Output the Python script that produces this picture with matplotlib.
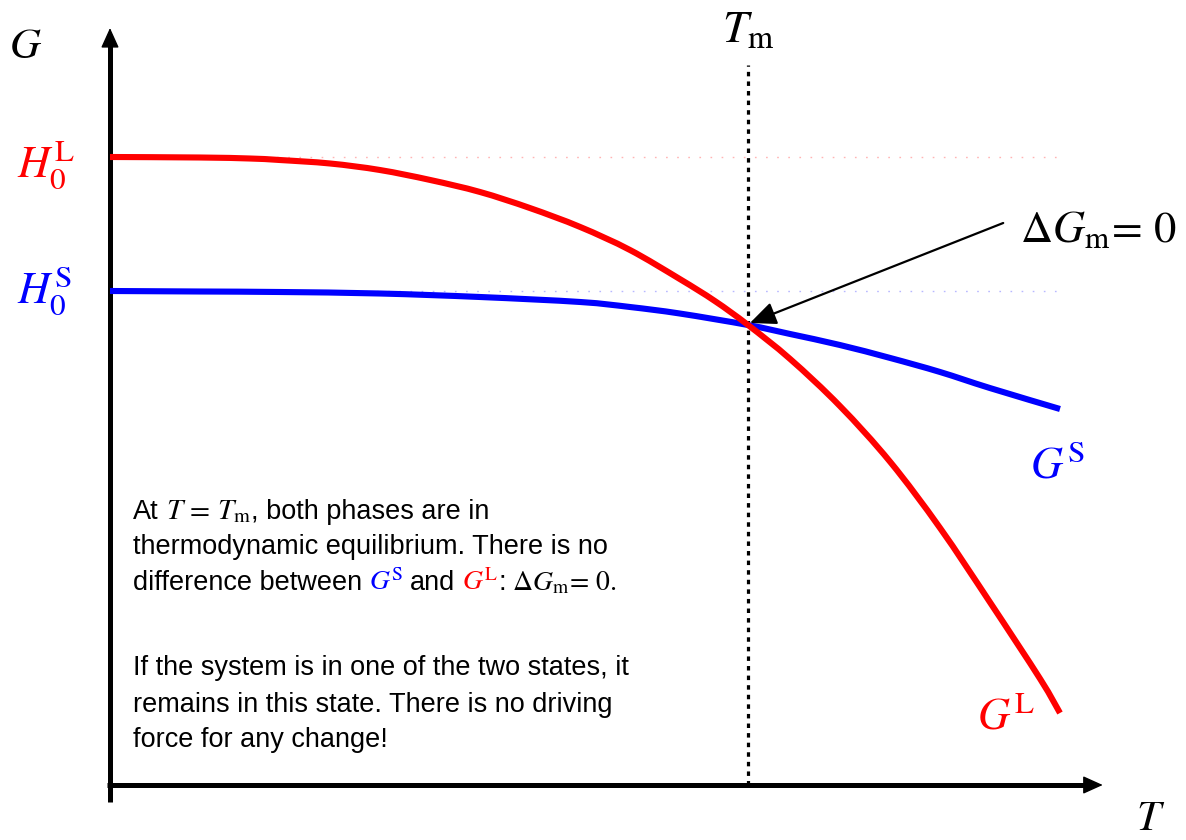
import matplotlib
matplotlib.use("Agg")
import matplotlib.pyplot as plt
from matplotlib.patches import ArrowStyle, PathPatch
from matplotlib.path import Path

plt.rcParams['mathtext.fontset'] = 'stix'
plt.rcParams['font.family'] = ['Liberation Sans', 'DejaVu Sans']

# temperature (T_m = 1) and Gibbs energy of the liquid phase
T_liquid = [0, 0.141, 0.219, 0.266, 0.345, 0.423, 0.502, 0.580, 0.658, 0.737, 0.815,
            0.893, 0.948, 1.0, 1.066, 1.144, 1.223, 1.301, 1.379, 1.458, 1.489]
G_liquid = [6.28, 6.275, 6.265, 6.25, 6.215, 6.15, 6.05, 5.93, 5.77, 5.58, 5.35,
            5.06, 4.84, 4.60, 4.26, 3.79, 3.23, 2.57, 1.83, 1.06, 0.72]

# ... and of the solid phase
T_solid = [0, 0.141, 0.266, 0.423, 0.580, 0.737, 0.815, 0.893, 1.0, 1.066,
           1.144, 1.223, 1.301, 1.379, 1.489]
G_solid = [4.94, 4.935, 4.93, 4.915, 4.88, 4.83, 4.78, 4.715, 4.60, 4.51,
           4.40, 4.27, 4.13, 3.97, 3.76]
T_m = 1.0

RED = '#ff0000'
BLUE = '#0000ff'


def smooth_path(xs, ys):
    # Catmull-Rom through the points, written as cubic Bezier segments
    pts = list(zip(xs, ys))
    ext = [pts[0]] + pts + [pts[-1]]
    verts = [pts[0]]
    codes = [Path.MOVETO]
    for i in range(1, len(ext) - 2):
        p0, p1, p2, p3 = ext[i - 1], ext[i], ext[i + 1], ext[i + 2]
        c1 = (p1[0] + (p2[0] - p0[0]) / 6, p1[1] + (p2[1] - p0[1]) / 6)
        c2 = (p2[0] - (p3[0] - p1[0]) / 6, p2[1] - (p3[1] - p1[1]) / 6)
        verts += [c1, c2, p2]
        codes += [Path.CURVE4] * 3
    return Path(verts, codes)


fig = plt.figure(figsize=(11.86, 8.40), dpi=100)
ax = fig.add_axes([0, 0, 1, 1])
ax.set_xlim(-0.1724, 1.6865)
ax.set_ylim(-0.55, 7.85)
ax.axis('off')

# coordinate axes: thick shafts plus arrow heads
head = ArrowStyle('-|>', head_length=0.62, head_width=0.28)
ax.plot([0, 0], [-0.17, 7.45], color='k', lw=3.6, solid_capstyle='butt')
ax.plot([-0.004, 1.535], [0, 0], color='k', lw=3.6, solid_capstyle='butt')
ax.annotate('', xy=(0, 7.57), xytext=(0, 7.3),
            arrowprops=dict(arrowstyle=head, lw=1, color='k', mutation_scale=20,
                            shrinkA=0, shrinkB=0))
ax.annotate('', xy=(1.556, 0), xytext=(1.5, 0),
            arrowprops=dict(arrowstyle=head, lw=1, color='k', mutation_scale=20,
                            shrinkA=0, shrinkB=0))

# faint reference levels H0
ax.plot([0, 1.497], [G_liquid[0]] * 2, color='#ffb4b4', lw=1.0,
        dashes=(1.2, 6.8), zorder=1)
ax.plot([0, 1.497], [G_solid[0]] * 2, color='#b8b8ff', lw=1.0,
        dashes=(1.2, 6.8), zorder=1)

# melting temperature
ax.plot([T_m, T_m], [0, 7.20], color='k', lw=2.3, linestyle=(0, (1.4, 1.6)),
        solid_capstyle='butt', zorder=2)

ax.add_patch(PathPatch(smooth_path(T_solid, G_solid), fill=False, ec=BLUE,
                       lw=4.4, capstyle='butt', zorder=3))
ax.add_patch(PathPatch(smooth_path(T_liquid, G_liquid), fill=False, ec=RED,
                       lw=4.4, capstyle='butt', zorder=4))

# labels
ax.text(-0.132, 7.27, r'$G$', fontsize=31, ha='center', va='baseline')
ax.text(1.608, -0.45, r'$T$', fontsize=31, ha='left', va='baseline')
ax.text(T_m, 7.43, r'$T_{\mathrm{m}}$', fontsize=33, ha='center', va='baseline')
ax.text(-0.145, 6.08, r'$H_0^{\mathrm{L}}$', fontsize=32, color=RED, ha='left', va='baseline')
ax.text(-0.145, 4.82, r'$H_0^{\mathrm{S}}$', fontsize=32, color=BLUE, ha='left', va='baseline')
ax.text(1.442, 3.07, r'$G^{\mathrm{S}}$', fontsize=32, color=BLUE, ha='left', va='baseline')
ax.text(1.359, 0.55, r'$G^{\mathrm{L}}$', fontsize=32, color=RED, ha='left', va='baseline')

ax.text(1.426, 5.43, r'$\Delta G_{\mathrm{m}}\!=\,0$', fontsize=32, ha='left', va='baseline')
ax.annotate('', xy=(T_m + 0.003, 4.62), xytext=(1.40, 5.62),
            arrowprops=dict(arrowstyle=ArrowStyle('-|>', head_length=0.8, head_width=0.35),
                            lw=1.6, color='k', mutation_scale=20, shrinkA=0, shrinkB=0))

# explanatory text, written piece by piece so symbols can be coloured
body = 19.5
math = 21
x0 = 0.036
renderer = fig.canvas.get_renderer()


def write_line(y, pieces):
    xd, yd = ax.transData.transform((x0, y))
    for s, c, size, gap in pieces:
        xd += gap
        xx, yy = ax.transData.inverted().transform((xd, yd))
        t = ax.text(xx, yy, s, fontsize=size, color=c, ha='left', va='baseline')
        xd += t.get_window_extent(renderer).width


write_line(2.66, [('At', 'k', body, 0),
                  (r'$T\,=\,T_{\mathrm{m}}$', 'k', math, 7),
                  (', both phases are in', 'k', body, 0)])
write_line(2.31, [('thermodynamic equilibrium. There is no', 'k', body, 0)])
write_line(1.95, [('difference between', 'k', body, 0),
                  (r'$G^{\mathrm{S}}$', BLUE, 20, 7),
                  ('and', 'k', body, 6),
                  (r'$G^{\mathrm{L}}$', RED, 20, 7),
                  (':', 'k', body, 0),
                  (r'$\Delta G_{\mathrm{m}}\!=\,0.$', 'k', 20, 6)])
write_line(1.10, [('If the system is in one of the two states, it', 'k', body, 0)])
write_line(0.73, [('remains in this state. There is no driving', 'k', body, 0)])
write_line(0.38, [('force for any change!', 'k', body, 0)])

fig.savefig('out.png', dpi=100)
